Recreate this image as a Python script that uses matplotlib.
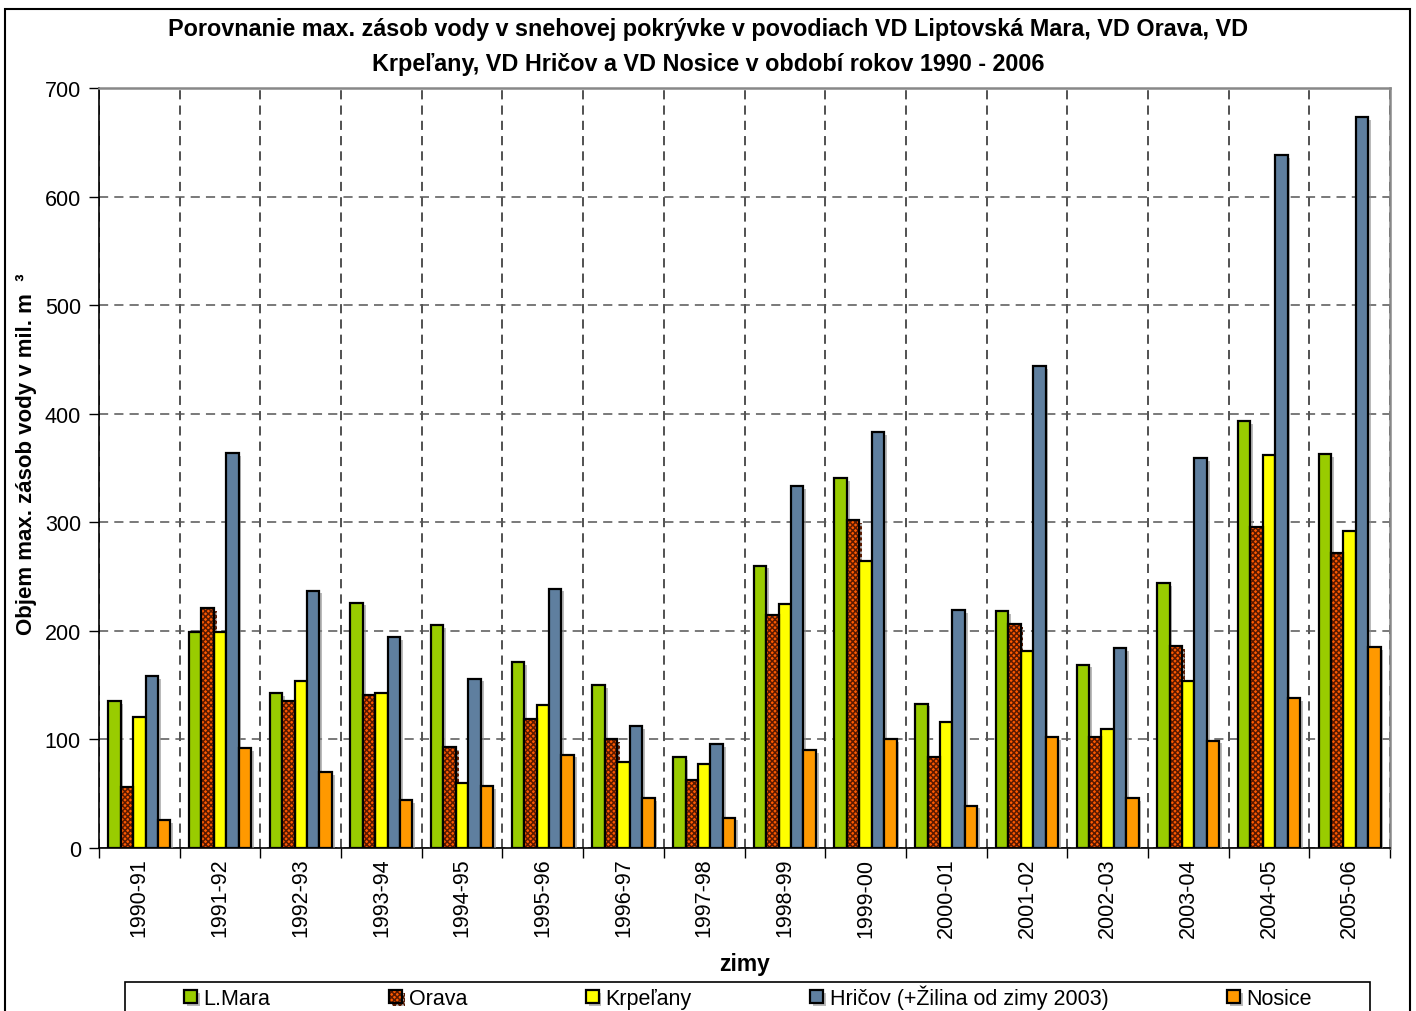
import matplotlib
matplotlib.use("Agg")
import matplotlib.pyplot as plt
import numpy as np
from matplotlib.patches import Rectangle
from matplotlib.legend_handler import HandlerTuple
import matplotlib.patheffects as pe

plt.rcParams['font.family'] = ['Liberation Sans', 'DejaVu Sans']
plt.rcParams['hatch.color'] = '#5a1a00'
plt.rcParams['hatch.linewidth'] = 1.1

winters = ['1990-91', '1991-92', '1992-93', '1993-94', '1994-95', '1995-96',
           '1996-97', '1997-98', '1998-99', '1999-00', '2000-01', '2001-02',
           '2002-03', '2003-04', '2004-05', '2005-06']

l_mara   = [135, 199, 143, 226, 205, 171, 150, 84, 260, 341, 133, 218, 169, 244, 393, 363]
orava    = [56, 221, 135, 141, 93, 119, 100, 63, 215, 302, 84, 206, 102, 186, 296, 272]
krpelany = [121, 199, 154, 143, 60, 132, 79, 77, 225, 264, 116, 181, 110, 154, 362, 292]
hricov   = [158, 364, 237, 194, 156, 239, 112, 96, 333, 383, 219, 444, 184, 359, 638, 673]
nosice   = [26, 92, 70, 44, 57, 86, 46, 28, 90, 100, 39, 102, 46, 99, 138, 185]

series_names = ['L.Mara', 'Orava', 'Krpeľany', 'Hričov (+Žilina od zimy 2003)', 'Nosice']
series_vals = [l_mara, orava, krpelany, hricov, nosice]
series_colors = ['#99cc00', '#ff5a00', '#ffff00', '#5f7f9f', '#ff9900']

W, H = 1416, 1012
fig = plt.figure(figsize=(W / 100, H / 100), dpi=100)
ax = fig.add_axes([99 / W, (H - 849) / H, (1390 - 99) / W, (849 - 89) / H])

x = np.arange(len(winters))
bw = 0.154
shadow = [pe.SimplePatchShadow(offset=(2, -2), shadow_rgbFace='0.55', alpha=0.6), pe.Normal()]

handles = []
for i, (name, vals, col) in enumerate(zip(series_names, series_vals, series_colors)):
    pos = x + (i - 2) * bw
    if name == 'Orava':
        fill = ax.bar(pos, vals, bw, color=col, hatch='xxxxxx', linewidth=0, zorder=3)
        line = ax.bar(pos, vals, bw, fill=False, edgecolor='black', linewidth=1.6, zorder=4)
        for p in fill:
            p.set_path_effects(shadow)
        handles.append((fill, line))
    else:
        bars = ax.bar(pos, vals, bw, color=col, edgecolor='black', linewidth=1.6, zorder=3)
        for p in bars:
            p.set_path_effects(shadow)
        handles.append(bars)

ax.set_xlim(-0.5, len(winters) - 0.5)
ax.set_ylim(0, 700)
ax.set_yticks(np.arange(0, 701, 100))
ax.set_xticks(x)
ax.set_xticklabels(winters, rotation=90)
ax.set_xticks(np.arange(-0.5, len(winters), 1), minor=True)
ax.tick_params(axis='x', which='major', length=0, pad=7, labelsize=15.5)
ax.tick_params(axis='x', which='minor', length=7, width=1, direction='out')
ax.tick_params(axis='y', length=7, width=1, direction='out', pad=6, labelsize=15.5)

ax.grid(axis='y', which='major', linestyle=(0, (6, 4)), color='#555555', linewidth=1.1, zorder=1)
ax.grid(axis='x', which='minor', linestyle=(0, (6, 4)), color='#222222', linewidth=1.1, zorder=1)
ax.set_axisbelow(True)

for s in ('top', 'right'):
    ax.spines[s].set_color('#888888')
    ax.spines[s].set_linewidth(1.8)
for s in ('left', 'bottom'):
    ax.spines[s].set_color('black')
    ax.spines[s].set_linewidth(1.2)

ax.set_xlabel('zimy', fontsize=16.5, fontweight='bold')
ax.xaxis.set_label_coords(0.5, -(953 - 849) / (849 - 89))
ax.set_ylabel('Objem max. zásob vody v mil. m  ³', fontsize=16, fontweight='bold')
ax.yaxis.set_label_coords(-(99 - 37) / (1390 - 99), 0.5 + 15 / (849 - 89))

fig.text(0.5, 1 - 47 / H,
         'Porovnanie max. zásob vody v snehovej pokrývke v povodiach VD Liptovská Mara, VD Orava, VD\n'
         'Krpeľany, VD Hričov a VD Nosice v období rokov 1990 - 2006',
         ha='center', va='center', fontsize=16.8, fontweight='bold', linespacing=1.65)

# outer chart border and legend frame
fig.patches.append(Rectangle((5 / W, -0.02), (1410 - 5) / W, 1 - 10 / H + 0.02,
                             transform=fig.transFigure, fill=False, edgecolor='black',
                             linewidth=1.5, zorder=0))
fig.patches.append(Rectangle((125 / W, -0.02), (1370 - 125) / W, (H - 983) / H + 0.02,
                             transform=fig.transFigure, fill=False, edgecolor='black',
                             linewidth=1.2, zorder=0))

fig.legend(handles, series_names, loc='center left', mode='expand', ncol=5,
           bbox_to_anchor=(184 / W, (H - 998) / H, (1312 - 184) / W, 0.0),
           frameon=False, borderpad=0, borderaxespad=0, fontsize=15.5,
           handlelength=0.6, handleheight=0.6, handletextpad=0.3,
           handler_map={tuple: HandlerTuple(ndivide=1)})

fig.savefig('out.png', dpi=100)
